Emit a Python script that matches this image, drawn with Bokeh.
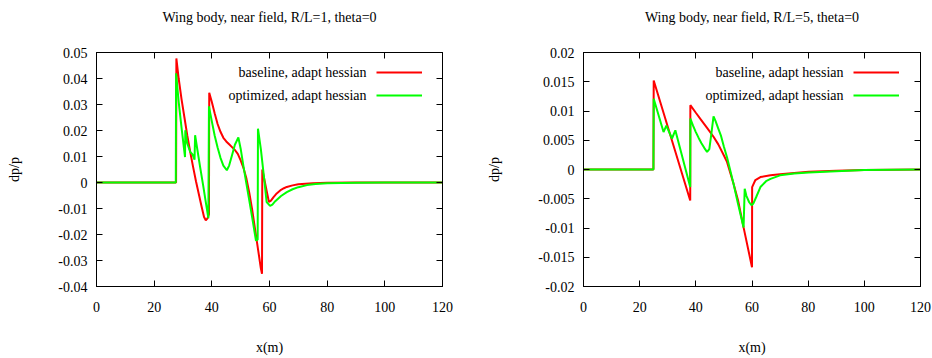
from bokeh.plotting import figure
from bokeh.models import (LinearAxis, FixedTicker, CustomJSTickFormatter, Legend,
                          LegendItem, Label, Range1d)
from bokeh.layouts import row
from bokeh.embed import file_html
from bokeh.resources import INLINE

FONT = "Liberation Serif"

# ---------------- data ----------------
titles = ["Wing body, near field, R/L=1, theta=0", "Wing body, near field, R/L=5, theta=0"]
series_names = ["baseline, adapt hessian", "optimized, adapt hessian"]
x_label = "x(m)"
y_label = "dp/p"
x_ticks = [0, 20, 40, 60, 80, 100, 120]
y_ticks_1 = [-0.04, -0.03, -0.02, -0.01, 0.0, 0.01, 0.02, 0.03, 0.04, 0.05]
y_ticks_2 = [-0.02, -0.015, -0.01, -0.005, 0.0, 0.005, 0.01, 0.015, 0.02]

# R/L=1 baseline
x_base_1 = [0, 27.6, 27.7, 28.5, 29.5, 30.5, 31.5, 32.5, 33.5, 34.5,
            35.5, 36.5, 37.3, 37.9, 38.5, 39.0, 39.1, 40, 41, 42,
            43, 44, 45, 46, 47, 48, 49, 50, 51, 52,
            53, 54, 55, 56, 57, 57.4, 57.5, 58, 59, 59.8,
            60.5, 61.4, 62.5, 64, 65, 66, 68, 70, 75, 80,
            90, 100, 120]
y_base_1 = [0, 0, 0.0477, 0.040, 0.032, 0.025, 0.018, 0.0118, 0.006, 0.0005,
            -0.0045, -0.0095, -0.0133, -0.0145, -0.0138, -0.0122, 0.0345, 0.031, 0.0265, 0.0225,
            0.0195, 0.0172, 0.0158, 0.0147, 0.0136, 0.0125, 0.011, 0.0085, 0.0055, 0.0015,
            -0.004, -0.0105, -0.018, -0.0255, -0.033, -0.0351, 0.005, 0.0023, -0.0032, -0.0075,
            -0.007, -0.0056, -0.0042, -0.0028, -0.0022, -0.0017, -0.0011, -0.0007, -0.0003, -0.0001,
            0, 0, 0]

# R/L=1 optimized
x_opt_1 = [0, 27.5, 27.6, 28.5, 29.5, 30.7, 30.8, 31.5, 32.5, 33.3,
           34.0, 34.2, 35, 36, 37, 38, 38.8, 39.0, 40, 41,
           42, 43, 44, 45.2, 46, 47, 48, 49.2, 50, 51,
           52, 53, 54, 55.3, 55.9, 56.0, 57, 58, 59, 60.2,
           61, 62, 64, 66, 68, 70, 73, 76, 80, 90,
           100, 120]
y_opt_1 = [0, 0, 0.042, 0.031, 0.021, 0.0098, 0.0201, 0.015, 0.0118, 0.0108,
           0.0088, 0.0182, 0.0125, 0.0055, -0.0012, -0.0082, -0.0137, 0.0293, 0.0235, 0.018,
           0.0135, 0.0095, 0.0065, 0.0047, 0.0065, 0.0105, 0.0145, 0.0173, 0.013, 0.006,
           -0.0005, -0.007, -0.0135, -0.0223, -0.022, 0.0207, 0.0128, 0.0029, -0.0075, -0.009,
           -0.0085, -0.0072, -0.0052, -0.0037, -0.0026, -0.0018, -0.001, -0.0006, -0.0003, -0.0001,
           0, 0]

# R/L=5 baseline
x_base_5 = [0, 24.9, 25.0, 38.0, 38.05, 40, 42, 44, 46.3, 48,
            50, 51.1, 53.4, 55, 57, 60, 60.05, 61.2, 63, 66.6,
            70, 75, 80.2, 90, 100, 120]
y_base_5 = [0, 0, 0.0152, -0.0053, 0.011, 0.0097, 0.0084, 0.0071, 0.0056, 0.0043,
            0.0024, 0.0013, -0.0024, -0.0052, -0.0099, -0.0167, -0.003, -0.0018, -0.0013, -0.001,
            -0.0008, -0.0006, -0.0004, -0.0002, -0.0001, 0]

# R/L=5 optimized
x_opt_5 = [0, 24.9, 25.0, 28.5, 29.5, 31.5, 32.7, 38.0, 38.05, 39,
           40, 41, 42, 43, 44, 44.8, 45.5, 46.3, 47, 48,
           49, 50, 51.1, 53.4, 55, 57.0, 57.4, 58, 59, 59.8,
           60.5, 61.5, 63, 65, 66.6, 70, 75, 80.2, 90, 100,
           120]
y_opt_5 = [0, 0, 0.0121, 0.0064, 0.0075, 0.0053, 0.0067, -0.003, 0.0087, 0.0075,
           0.0064, 0.0054, 0.0045, 0.0037, 0.003, 0.0035, 0.006, 0.0091, 0.0083, 0.007,
           0.0057, 0.0039, 0.0021, -0.0024, -0.0058, -0.0099, -0.0033, -0.0045, -0.0056, -0.0061,
           -0.0058, -0.0047, -0.003, -0.002, -0.0016, -0.001, -0.0007, -0.0005, -0.0003, -0.0001,
           0]

RED = "#ff0000"
GREEN = "#00ff00"

fmt = CustomJSTickFormatter(code="return String(parseFloat(tick.toFixed(5)));")


def style_axis(ax, ticks, show_labels=True):
    ax.ticker = FixedTicker(ticks=ticks)
    ax.formatter = fmt
    ax.major_tick_in = 6
    ax.major_tick_out = 0
    ax.minor_tick_line_color = None
    ax.axis_line_color = "black"
    ax.major_tick_line_color = "black"
    ax.major_label_text_font = FONT
    ax.major_label_text_font_size = "14px"
    ax.major_label_text_color = "black"
    ax.axis_label_text_font = FONT
    ax.axis_label_text_font_size = "14px"
    ax.axis_label_text_font_style = "normal"
    ax.axis_label_text_color = "black"
    if not show_labels:
        ax.major_label_text_font_size = "0px"
        ax.major_label_text_color = None
        ax.major_label_standoff = 0


FH = 234


def make_fig(title, xb, yb, xo, yo, yticks, fw, mbl, mbr, leg_x):
    p = figure(frame_width=fw, frame_height=FH,
               min_border_left=mbl, min_border_right=mbr,
               min_border_top=52, min_border_bottom=72,
               x_range=Range1d(0, 120), y_range=Range1d(yticks[0], yticks[-1]),
               output_backend="svg", toolbar_location=None,
               x_axis_label=x_label, y_axis_label=y_label)
    p.background_fill_color = "white"
    p.border_fill_color = "white"
    p.outline_line_color = "black"
    p.outline_line_width = 1
    p.xgrid.visible = False
    p.ygrid.visible = False

    style_axis(p.xaxis[0], x_ticks)
    p.xaxis[0].major_label_standoff = 15
    p.xaxis[0].axis_label_standoff = 25
    style_axis(p.yaxis[0], yticks)
    p.yaxis[0].major_label_standoff = 9
    p.yaxis[0].axis_label_standoff = 33

    # mirrored top axis: ticks only, carries the chart title as its label
    top = LinearAxis(axis_label=title)
    style_axis(top, x_ticks, show_labels=False)
    top.axis_label_standoff = 28
    p.add_layout(top, "above")
    right = LinearAxis()
    style_axis(right, yticks, show_labels=False)
    p.add_layout(right, "right")

    rb = p.line(xb, yb, line_color=RED, line_width=2)
    ro = p.line(xo, yo, line_color=GREEN, line_width=2)

    leg = Legend(items=[LegendItem(label=" ", renderers=[rb]),
                        LegendItem(label=" ", renderers=[ro])],
                 location=(leg_x, 181), orientation="vertical",
                 glyph_width=46, glyph_height=20, label_height=20, label_width=2,
                 spacing=3, padding=0, margin=0, label_standoff=0,
                 background_fill_alpha=0, border_line_color=None)
    p.add_layout(leg, "center")

    for i, name in enumerate(series_names):
        p.add_layout(Label(x=leg_x - 10, y=224 - 10 - 23 * i, x_units="screen", y_units="screen",
                           text=name, text_align="right", text_baseline="middle",
                           text_font=FONT, text_font_size="14px", text_color="black"))
    return p


p1 = make_fig(titles[0], x_base_1, y_base_1, x_opt_1, y_opt_1, y_ticks_1,
              fw=346, mbl=96, mbr=32, leg_x=280)
p2 = make_fig(titles[1], x_base_5, y_base_5, x_opt_5, y_opt_5, y_ticks_2,
              fw=337, mbl=109, mbr=12, leg_x=270)

layout = row(p1, p2)
open("out.html", "w").write(file_html(layout, INLINE))
